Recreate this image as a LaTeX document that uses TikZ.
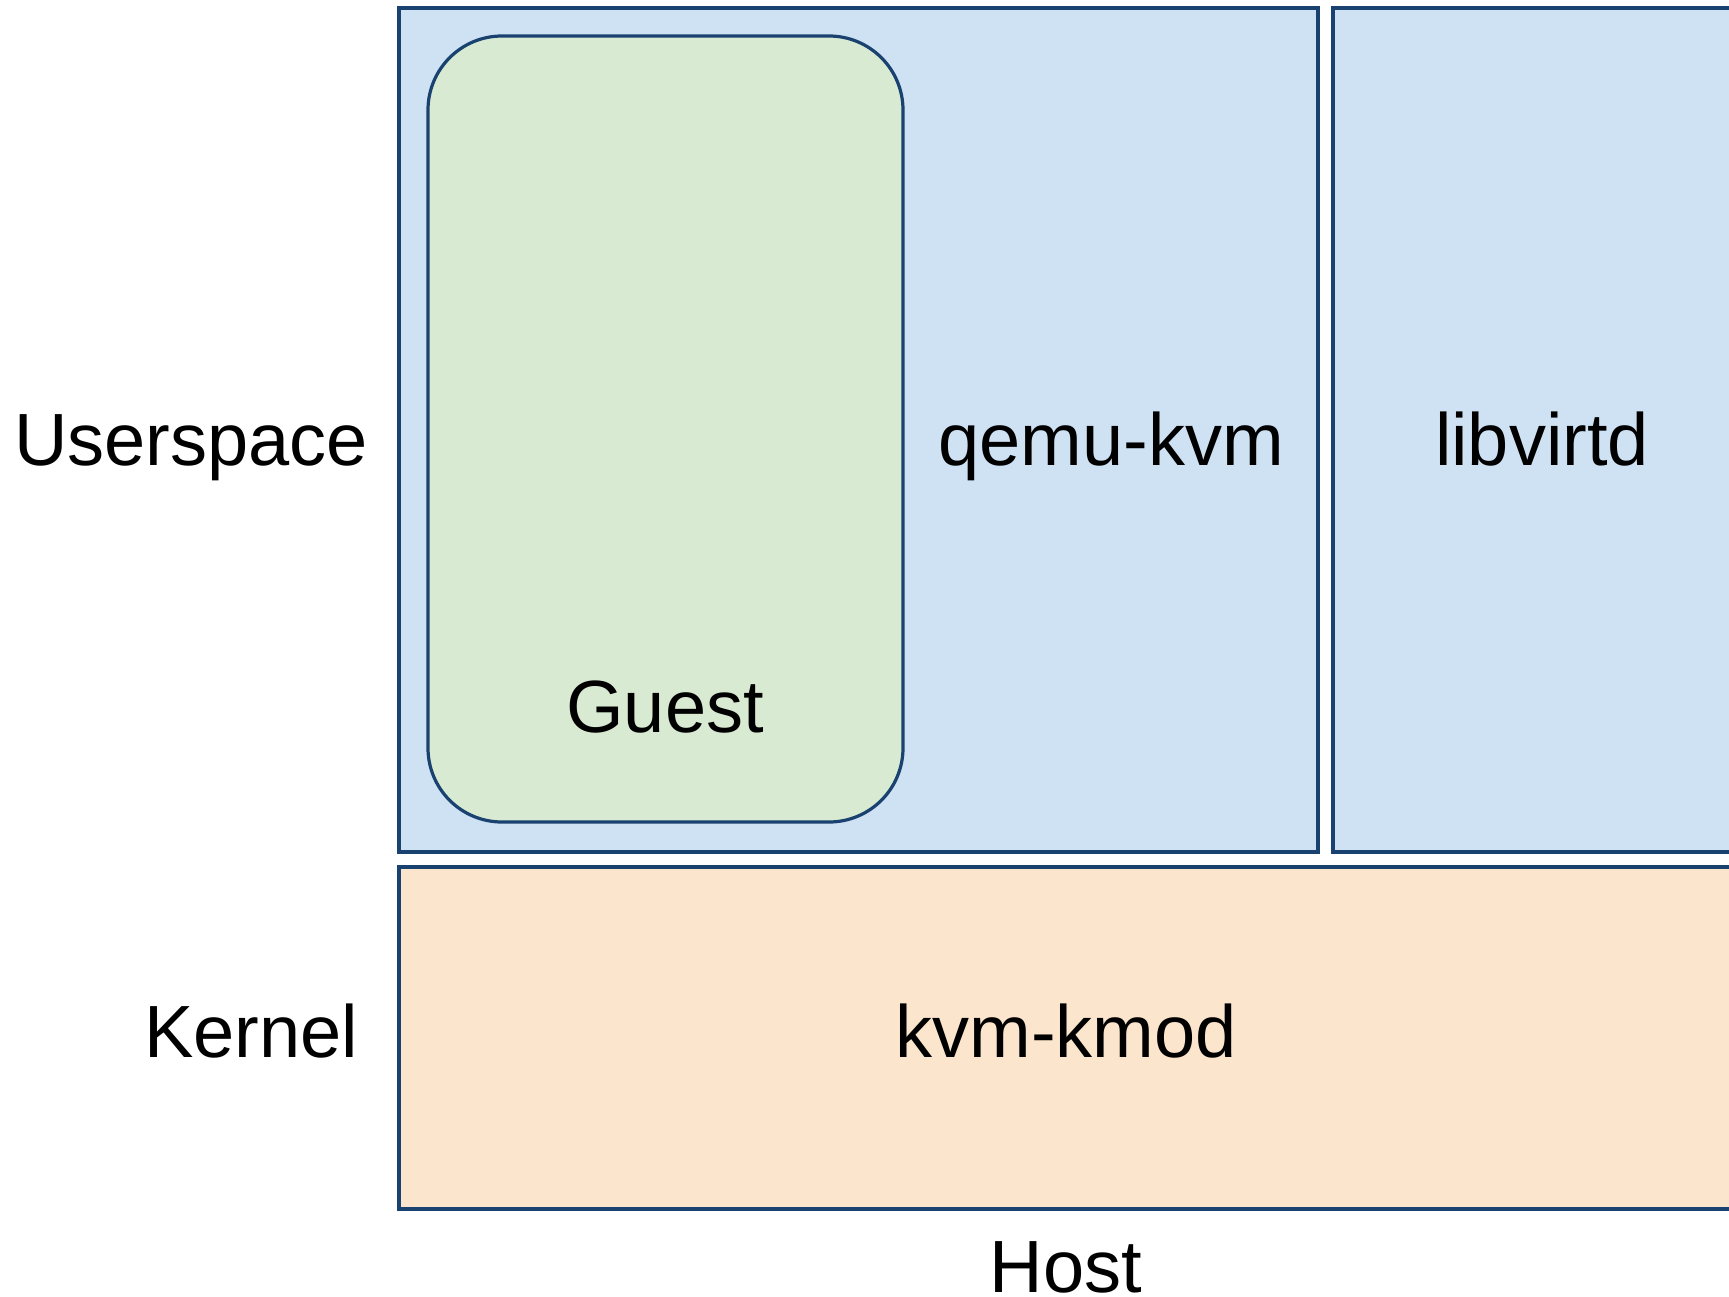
\documentclass[tikz,border=0pt]{standalone}
\usepackage{fontspec}
\setmainfont{Liberation Sans}
\definecolor{edge}{HTML}{1A4270}
\definecolor{userfill}{HTML}{CFE2F3}
\definecolor{guestfill}{HTML}{D9EAD3}
\definecolor{kernfill}{HTML}{FCE5CD}
\tikzset{
  box/.style={draw=edge, line width=1.6pt},
  lbl/.style={font=\fontsize{37}{41}\selectfont, anchor=base, inner sep=0pt}
}
\begin{document}
\begin{tikzpicture}[x=0.5pt,y=-0.5pt]
\useasboundingbox (0,0) rectangle (1729,1296);
\clip (0,0) rectangle (1729,1296);
\draw[box, fill=userfill] (399,8) rectangle (1318,852);
\draw[box, fill=userfill] (1333,8) rectangle (1760,852);
\draw[box, fill=kernfill] (399,867) rectangle (1760,1209);
\draw[box, fill=guestfill, rounded corners=37pt] (428,36) rectangle (903,822);
\node[lbl] (user) at (191,465) {Userspace};
\node[lbl] (kern) at (251,1057) {Kernel};
\node[lbl] (qemu) at (1111,465) {qemu-kvm};
\node[lbl] (libv) at (1542,465) {libvirtd};
\node[lbl] (guest) at (665,732) {Guest};
\node[lbl] (kmod) at (1066,1057) {kvm-kmod};
\node[lbl] (host) at (1066,1292) {Host};
\end{tikzpicture}
\end{document}
